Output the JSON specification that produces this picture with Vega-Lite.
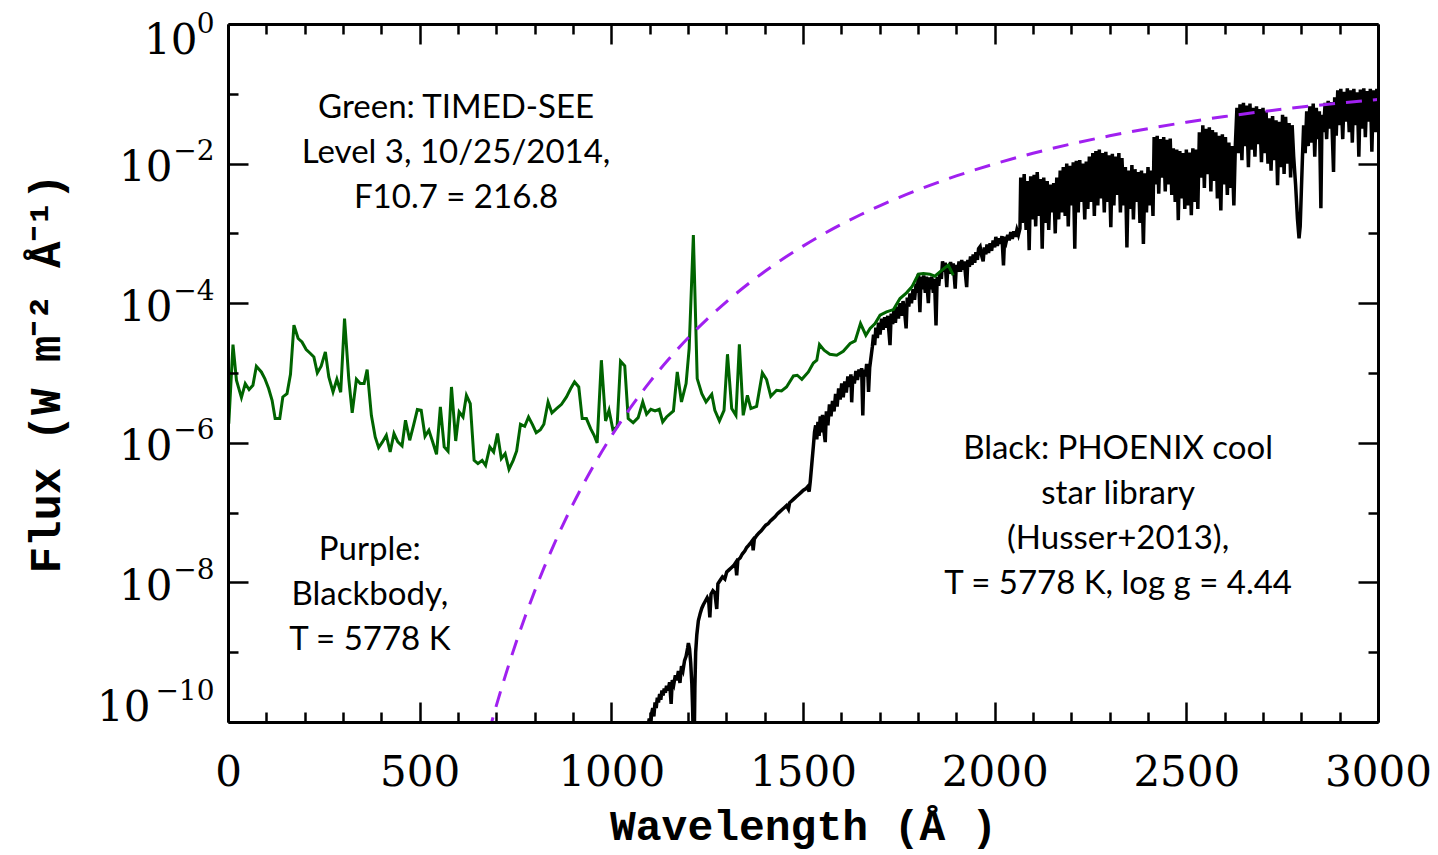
{
  "$schema": "https://vega.github.io/schema/vega-lite/v6.json",
  "width": 1150,
  "height": 698,
  "autosize": {"type": "none"},
  "padding": {"left": 228, "top": 24, "right": 60, "bottom": 133},
  "background": "white",
  "config": {"view": {"stroke": null}, "axis": {"grid": false}},
  "datasets": {
    "timed_see": [
      {"wavelength":2,"log_flux":-5.725},{"wavelength":13,"log_flux":-4.592},{"wavelength":22,"log_flux":-5.104},{"wavelength":35,"log_flux":-5.352},{"wavelength":45,"log_flux":-5.151},{"wavelength":55,"log_flux":-5.237},{"wavelength":65,"log_flux":-5.176},{"wavelength":74,"log_flux":-4.903},{"wavelength":87,"log_flux":-4.985},{"wavelength":96,"log_flux":-5.08},{"wavelength":106,"log_flux":-5.223},{"wavelength":115,"log_flux":-5.391},{"wavelength":123,"log_flux":-5.653},{"wavelength":135,"log_flux":-5.653},{"wavelength":143,"log_flux":-5.343},{"wavelength":154,"log_flux":-5.295},{"wavelength":163,"log_flux":-5.018},{"wavelength":172,"log_flux":-4.315},{"wavelength":183,"log_flux":-4.506},{"wavelength":193,"log_flux":-4.555},{"wavelength":204,"log_flux":-4.664},{"wavelength":215,"log_flux":-4.721},{"wavelength":224,"log_flux":-4.77},{"wavelength":233,"log_flux":-4.999},{"wavelength":243,"log_flux":-4.903},{"wavelength":254,"log_flux":-4.698},{"wavelength":263,"log_flux":-5.057},{"wavelength":274,"log_flux":-5.272},{"wavelength":284,"log_flux":-5.09},{"wavelength":294,"log_flux":-5.276},{"wavelength":304,"log_flux":-4.22},{"wavelength":315,"log_flux":-5.08},{"wavelength":324,"log_flux":-5.572},{"wavelength":335,"log_flux":-5.09},{"wavelength":345,"log_flux":-5.151},{"wavelength":355,"log_flux":-5.151},{"wavelength":363,"log_flux":-4.951},{"wavelength":374,"log_flux":-5.606},{"wavelength":384,"log_flux":-5.917},{"wavelength":393,"log_flux":-6.069},{"wavelength":403,"log_flux":-5.988},{"wavelength":413,"log_flux":-5.892},{"wavelength":423,"log_flux":-6.132},{"wavelength":433,"log_flux":-5.868},{"wavelength":443,"log_flux":-5.988},{"wavelength":454,"log_flux":-6.045},{"wavelength":463,"log_flux":-5.677},{"wavelength":474,"log_flux":-5.964},{"wavelength":484,"log_flux":-5.749},{"wavelength":494,"log_flux":-5.524},{"wavelength":504,"log_flux":-5.534},{"wavelength":514,"log_flux":-5.907},{"wavelength":524,"log_flux":-5.821},{"wavelength":534,"log_flux":-5.988},{"wavelength":544,"log_flux":-6.165},{"wavelength":554,"log_flux":-5.487},{"wavelength":564,"log_flux":-6.06},{"wavelength":574,"log_flux":-6.122},{"wavelength":583,"log_flux":-5.2},{"wavelength":594,"log_flux":-5.974},{"wavelength":603,"log_flux":-5.558},{"wavelength":613,"log_flux":-5.63},{"wavelength":622,"log_flux":-5.319},{"wavelength":632,"log_flux":-5.438},{"wavelength":642,"log_flux":-6.251},{"wavelength":652,"log_flux":-6.299},{"wavelength":663,"log_flux":-6.251},{"wavelength":672,"log_flux":-6.323},{"wavelength":683,"log_flux":-6.06},{"wavelength":693,"log_flux":-6.132},{"wavelength":703,"log_flux":-5.868},{"wavelength":713,"log_flux":-6.227},{"wavelength":723,"log_flux":-6.155},{"wavelength":733,"log_flux":-6.38},{"wavelength":744,"log_flux":-6.251},{"wavelength":753,"log_flux":-6.117},{"wavelength":763,"log_flux":-5.735},{"wavelength":774,"log_flux":-5.763},{"wavelength":784,"log_flux":-5.63},{"wavelength":794,"log_flux":-5.735},{"wavelength":804,"log_flux":-5.854},{"wavelength":815,"log_flux":-5.811},{"wavelength":824,"log_flux":-5.735},{"wavelength":835,"log_flux":-5.415},{"wavelength":845,"log_flux":-5.572},{"wavelength":857,"log_flux":-5.51},{"wavelength":870,"log_flux":-5.448},{"wavelength":883,"log_flux":-5.343},{"wavelength":894,"log_flux":-5.223},{"wavelength":904,"log_flux":-5.128},{"wavelength":915,"log_flux":-5.2},{"wavelength":924,"log_flux":-5.653},{"wavelength":935,"log_flux":-5.653},{"wavelength":946,"log_flux":-5.797},{"wavelength":955,"log_flux":-5.892},{"wavelength":963,"log_flux":-6.002},{"wavelength":974,"log_flux":-4.817},{"wavelength":985,"log_flux":-5.687},{"wavelength":994,"log_flux":-5.534},{"wavelength":1004,"log_flux":-5.811},{"wavelength":1015,"log_flux":-5.773},{"wavelength":1024,"log_flux":-4.832},{"wavelength":1035,"log_flux":-4.899},{"wavelength":1044,"log_flux":-5.653},{"wavelength":1057,"log_flux":-5.711},{"wavelength":1070,"log_flux":-5.639},{"wavelength":1082,"log_flux":-5.415},{"wavelength":1092,"log_flux":-5.591},{"wavelength":1103,"log_flux":-5.52},{"wavelength":1114,"log_flux":-5.544},{"wavelength":1125,"log_flux":-5.52},{"wavelength":1134,"log_flux":-5.701},{"wavelength":1144,"log_flux":-5.63},{"wavelength":1162,"log_flux":-5.544},{"wavelength":1172,"log_flux":-4.985},{"wavelength":1183,"log_flux":-5.415},{"wavelength":1195,"log_flux":-5.152},{"wavelength":1203,"log_flux":-4.65},{"wavelength":1214,"log_flux":-3.025},{"wavelength":1224,"log_flux":-5.08},{"wavelength":1236,"log_flux":-5.295},{"wavelength":1247,"log_flux":-5.415},{"wavelength":1262,"log_flux":-5.305},{"wavelength":1270,"log_flux":-5.534},{"wavelength":1282,"log_flux":-5.687},{"wavelength":1294,"log_flux":-5.534},{"wavelength":1303,"log_flux":-4.731},{"wavelength":1314,"log_flux":-5.51},{"wavelength":1325,"log_flux":-5.606},{"wavelength":1334,"log_flux":-4.588},{"wavelength":1344,"log_flux":-5.606},{"wavelength":1355,"log_flux":-5.319},{"wavelength":1364,"log_flux":-5.51},{"wavelength":1379,"log_flux":-5.477},{"wavelength":1394,"log_flux":-4.999},{"wavelength":1405,"log_flux":-5.094},{"wavelength":1416,"log_flux":-5.333},{"wavelength":1431,"log_flux":-5.247},{"wavelength":1444,"log_flux":-5.257},{"wavelength":1457,"log_flux":-5.2},{"wavelength":1475,"log_flux":-5.042},{"wavelength":1485,"log_flux":-5.032},{"wavelength":1497,"log_flux":-5.09},{"wavelength":1514,"log_flux":-4.985},{"wavelength":1527,"log_flux":-4.856},{"wavelength":1536,"log_flux":-4.817},{"wavelength":1543,"log_flux":-4.593},{"wavelength":1555,"log_flux":-4.674},{"wavelength":1570,"log_flux":-4.731},{"wavelength":1588,"log_flux":-4.746},{"wavelength":1605,"log_flux":-4.688},{"wavelength":1623,"log_flux":-4.578},{"wavelength":1636,"log_flux":-4.54},{"wavelength":1650,"log_flux":-4.291},{"wavelength":1664,"log_flux":-4.459},{"wavelength":1675,"log_flux":-4.363},{"wavelength":1688,"log_flux":-4.291},{"wavelength":1701,"log_flux":-4.172},{"wavelength":1718,"log_flux":-4.125},{"wavelength":1736,"log_flux":-4.091},{"wavelength":1753,"log_flux":-3.933},{"wavelength":1770,"log_flux":-3.852},{"wavelength":1784,"log_flux":-3.766},{"wavelength":1801,"log_flux":-3.584},{"wavelength":1814,"log_flux":-3.575},{"wavelength":1831,"log_flux":-3.584},{"wavelength":1844,"log_flux":-3.613},{"wavelength":1857,"log_flux":-3.551},{"wavelength":1879,"log_flux":-3.455},{"wavelength":1892,"log_flux":-3.599}
    ],
    "blackbody": [
      {"wavelength":680,"log_flux":-10.157},{"wavelength":700,"log_flux":-9.766},{"wavelength":725,"log_flux":-9.31},{"wavelength":750,"log_flux":-8.886},{"wavelength":775,"log_flux":-8.492},{"wavelength":800,"log_flux":-8.125},{"wavelength":825,"log_flux":-7.782},{"wavelength":850,"log_flux":-7.461},{"wavelength":875,"log_flux":-7.161},{"wavelength":900,"log_flux":-6.879},{"wavelength":950,"log_flux":-6.364},{"wavelength":1000,"log_flux":-5.906},{"wavelength":1050,"log_flux":-5.497},{"wavelength":1100,"log_flux":-5.13},{"wavelength":1150,"log_flux":-4.799},{"wavelength":1200,"log_flux":-4.499},{"wavelength":1250,"log_flux":-4.228},{"wavelength":1300,"log_flux":-3.98},{"wavelength":1350,"log_flux":-3.754},{"wavelength":1400,"log_flux":-3.547},{"wavelength":1450,"log_flux":-3.356},{"wavelength":1500,"log_flux":-3.182},{"wavelength":1550,"log_flux":-3.02},{"wavelength":1600,"log_flux":-2.871},{"wavelength":1650,"log_flux":-2.733},{"wavelength":1700,"log_flux":-2.605},{"wavelength":1750,"log_flux":-2.486},{"wavelength":1800,"log_flux":-2.376},{"wavelength":1900,"log_flux":-2.177},{"wavelength":2000,"log_flux":-2.004},{"wavelength":2100,"log_flux":-1.852},{"wavelength":2200,"log_flux":-1.719},{"wavelength":2300,"log_flux":-1.602},{"wavelength":2400,"log_flux":-1.499},{"wavelength":2500,"log_flux":-1.407},{"wavelength":2600,"log_flux":-1.326},{"wavelength":2700,"log_flux":-1.254},{"wavelength":2800,"log_flux":-1.19},{"wavelength":2900,"log_flux":-1.133},{"wavelength":3000,"log_flux":-1.082}
    ],
    "phoenix": [
      {"wavelength":1096,"log_flux":-10.05},{"wavelength":1099,"log_flux":-9.95},{"wavelength":1102,"log_flux":-10.1},{"wavelength":1105,"log_flux":-9.88},{"wavelength":1108,"log_flux":-9.8},{"wavelength":1111,"log_flux":-9.92},{"wavelength":1114,"log_flux":-9.72},{"wavelength":1117,"log_flux":-9.8},{"wavelength":1120,"log_flux":-9.65},{"wavelength":1123,"log_flux":-9.72},{"wavelength":1126,"log_flux":-9.6},{"wavelength":1129,"log_flux":-9.68},{"wavelength":1132,"log_flux":-9.55},{"wavelength":1135,"log_flux":-9.62},{"wavelength":1138,"log_flux":-9.52},{"wavelength":1141,"log_flux":-9.58},{"wavelength":1144,"log_flux":-9.48},{"wavelength":1148,"log_flux":-9.55},{"wavelength":1152,"log_flux":-9.43},{"wavelength":1156,"log_flux":-9.74},{"wavelength":1159,"log_flux":-9.4},{"wavelength":1163,"log_flux":-9.46},{"wavelength":1167,"log_flux":-9.33},{"wavelength":1171,"log_flux":-9.4},{"wavelength":1175,"log_flux":-9.27},{"wavelength":1179,"log_flux":-9.44},{"wavelength":1183,"log_flux":-9.2},{"wavelength":1187,"log_flux":-9.26},{"wavelength":1191,"log_flux":-9.12},{"wavelength":1195,"log_flux":-9.06},{"wavelength":1199,"log_flux":-8.94},{"wavelength":1201,"log_flux":-8.87},{"wavelength":1204,"log_flux":-8.95},{"wavelength":1207,"log_flux":-9.15},{"wavelength":1210,"log_flux":-9.45},{"wavelength":1212,"log_flux":-9.8},{"wavelength":1214,"log_flux":-10.3},{"wavelength":1215,"log_flux":-10.6},{"wavelength":1216,"log_flux":-10.4},{"wavelength":1218,"log_flux":-9.5},{"wavelength":1220,"log_flux":-9.0},{"wavelength":1223,"log_flux":-8.75},{"wavelength":1227,"log_flux":-8.55},{"wavelength":1232,"log_flux":-8.44},{"wavelength":1236,"log_flux":-8.37},{"wavelength":1240,"log_flux":-8.32},
      {"wavelength":1245,"log_flux":-8.27},{"wavelength":1250,"log_flux":-8.22},{"wavelength":1254,"log_flux":-8.27},{"wavelength":1257,"log_flux":-8.5},{"wavelength":1260,"log_flux":-8.17},{"wavelength":1265,"log_flux":-8.12},{"wavelength":1270,"log_flux":-8.15},{"wavelength":1275,"log_flux":-8.38},{"wavelength":1278,"log_flux":-8.02},{"wavelength":1284,"log_flux":-7.97},{"wavelength":1290,"log_flux":-7.92},{"wavelength":1296,"log_flux":-7.95},{"wavelength":1301,"log_flux":-7.85},{"wavelength":1307,"log_flux":-7.82},{"wavelength":1313,"log_flux":-7.79},{"wavelength":1319,"log_flux":-7.76},{"wavelength":1324,"log_flux":-7.72},{"wavelength":1327,"log_flux":-7.9},{"wavelength":1330,"log_flux":-7.68},{"wavelength":1336,"log_flux":-7.65},{"wavelength":1342,"log_flux":-7.59},{"wavelength":1348,"log_flux":-7.55},{"wavelength":1353,"log_flux":-7.5},{"wavelength":1358,"log_flux":-7.47},{"wavelength":1364,"log_flux":-7.43},{"wavelength":1368,"log_flux":-7.4},{"wavelength":1370,"log_flux":-7.54},{"wavelength":1373,"log_flux":-7.38},{"wavelength":1379,"log_flux":-7.33},{"wavelength":1385,"log_flux":-7.29},{"wavelength":1391,"log_flux":-7.26},{"wavelength":1397,"log_flux":-7.22},{"wavelength":1403,"log_flux":-7.18},{"wavelength":1409,"log_flux":-7.16},{"wavelength":1415,"log_flux":-7.12},{"wavelength":1421,"log_flux":-7.09},{"wavelength":1427,"log_flux":-7.06},{"wavelength":1433,"log_flux":-7.02},{"wavelength":1439,"log_flux":-6.99},{"wavelength":1445,"log_flux":-6.96},{"wavelength":1451,"log_flux":-6.93},{"wavelength":1457,"log_flux":-6.9},{"wavelength":1462,"log_flux":-6.95},{"wavelength":1465,"log_flux":-6.86},{"wavelength":1471,"log_flux":-6.83},{"wavelength":1477,"log_flux":-6.8},{"wavelength":1483,"log_flux":-6.77},{"wavelength":1489,"log_flux":-6.74},{"wavelength":1495,"log_flux":-6.71},{"wavelength":1501,"log_flux":-6.68},{"wavelength":1507,"log_flux":-6.66},{"wavelength":1512,"log_flux":-6.63},{"wavelength":1516,"log_flux":-6.7},{"wavelength":1519,"log_flux":-6.55},{"wavelength":1523,"log_flux":-6.3},{"wavelength":1527,"log_flux":-6.05},{"wavelength":1530,"log_flux":-5.85},
      {"wavelength":1533,"log_flux":-5.75},{"wavelength":1536,"log_flux":-5.95},{"wavelength":1539,"log_flux":-5.7},{"wavelength":1542,"log_flux":-5.9},{"wavelength":1545,"log_flux":-5.62},{"wavelength":1548,"log_flux":-5.85},{"wavelength":1551,"log_flux":-5.6},{"wavelength":1554,"log_flux":-5.8},{"wavelength":1558,"log_flux":-5.99},{"wavelength":1561,"log_flux":-5.55},{"wavelength":1565,"log_flux":-5.75},{"wavelength":1569,"log_flux":-5.45},{"wavelength":1573,"log_flux":-5.62},{"wavelength":1577,"log_flux":-5.4},{"wavelength":1581,"log_flux":-5.55},{"wavelength":1585,"log_flux":-5.3},{"wavelength":1589,"log_flux":-5.48},{"wavelength":1593,"log_flux":-5.22},{"wavelength":1597,"log_flux":-5.38},{"wavelength":1601,"log_flux":-5.15},{"wavelength":1605,"log_flux":-5.35},{"wavelength":1609,"log_flux":-5.12},{"wavelength":1613,"log_flux":-5.28},{"wavelength":1617,"log_flux":-5.05},{"wavelength":1621,"log_flux":-5.2},{"wavelength":1625,"log_flux":-5.02},{"wavelength":1627,"log_flux":-5.42},{"wavelength":1630,"log_flux":-5.05},{"wavelength":1634,"log_flux":-5.15},{"wavelength":1638,"log_flux":-4.97},{"wavelength":1642,"log_flux":-5.1},{"wavelength":1646,"log_flux":-4.95},{"wavelength":1650,"log_flux":-5.05},{"wavelength":1653,"log_flux":-4.93},{"wavelength":1656,"log_flux":-5.61},{"wavelength":1659,"log_flux":-4.95},{"wavelength":1663,"log_flux":-5.05},{"wavelength":1666,"log_flux":-4.87},{"wavelength":1669,"log_flux":-5.0},{"wavelength":1671,"log_flux":-5.27},{"wavelength":1674,"log_flux":-4.92},{"wavelength":1678,"log_flux":-4.75},{"wavelength":1681,"log_flux":-4.62},{"wavelength":1684,"log_flux":-4.45},{"wavelength":1687,"log_flux":-4.6},{"wavelength":1690,"log_flux":-4.35},{"wavelength":1694,"log_flux":-4.5},{"wavelength":1697,"log_flux":-4.28},{"wavelength":1701,"log_flux":-4.45},{"wavelength":1705,"log_flux":-4.22},{"wavelength":1709,"log_flux":-4.38},{"wavelength":1713,"log_flux":-4.2},{"wavelength":1717,"log_flux":-4.35},{"wavelength":1721,"log_flux":-4.18},{"wavelength":1724,"log_flux":-4.4},{"wavelength":1727,"log_flux":-4.6},{"wavelength":1730,"log_flux":-4.15},{"wavelength":1734,"log_flux":-4.3},{"wavelength":1737,"log_flux":-4.1},{"wavelength":1741,"log_flux":-4.28},{"wavelength":1745,"log_flux":-4.05},{"wavelength":1749,"log_flux":-4.22},{"wavelength":1753,"log_flux":-4.0},{"wavelength":1757,"log_flux":-4.18},{"wavelength":1761,"log_flux":-3.97},{"wavelength":1765,"log_flux":-4.12},{"wavelength":1769,"log_flux":-4.36},{"wavelength":1772,"log_flux":-3.92},{"wavelength":1776,"log_flux":-4.05},{"wavelength":1779,"log_flux":-3.86},{"wavelength":1783,"log_flux":-4.0},{"wavelength":1787,"log_flux":-3.8},{"wavelength":1791,"log_flux":-3.95},{"wavelength":1795,"log_flux":-3.72},{"wavelength":1798,"log_flux":-3.85},{"wavelength":1801,"log_flux":-3.58},{"wavelength":1805,"log_flux":-4.13},{"wavelength":1808,"log_flux":-3.62},{"wavelength":1812,"log_flux":-3.8},{"wavelength":1815,"log_flux":-3.6},{"wavelength":1819,"log_flux":-3.85},{"wavelength":1822,"log_flux":-3.62},{"wavelength":1827,"log_flux":-4.0},{"wavelength":1830,"log_flux":-3.63},{"wavelength":1833,"log_flux":-3.8},{"wavelength":1836,"log_flux":-3.62},{"wavelength":1840,"log_flux":-3.85},{"wavelength":1843,"log_flux":-3.65},{"wavelength":1847,"log_flux":-4.32},{"wavelength":1850,"log_flux":-3.62},{"wavelength":1854,"log_flux":-3.75},{"wavelength":1857,"log_flux":-3.58},{"wavelength":1861,"log_flux":-3.65},{"wavelength":1864,"log_flux":-3.4},{"wavelength":1868,"log_flux":-3.55},{"wavelength":1871,"log_flux":-3.42},{"wavelength":1875,"log_flux":-3.77},{"wavelength":1878,"log_flux":-3.45},{"wavelength":1882,"log_flux":-3.58},{"wavelength":1885,"log_flux":-3.41},{"wavelength":1889,"log_flux":-3.55},{"wavelength":1892,"log_flux":-3.43},{"wavelength":1897,"log_flux":-3.79},{"wavelength":1900,"log_flux":-3.45},{"wavelength":1904,"log_flux":-3.55},{"wavelength":1907,"log_flux":-3.4},{"wavelength":1911,"log_flux":-3.55},{"wavelength":1914,"log_flux":-3.38},{"wavelength":1918,"log_flux":-3.52},{"wavelength":1921,"log_flux":-3.4},{"wavelength":1924,"log_flux":-3.6},{"wavelength":1927,"log_flux":-3.77},{"wavelength":1930,"log_flux":-3.38},{"wavelength":1934,"log_flux":-3.48},{"wavelength":1937,"log_flux":-3.33},{"wavelength":1941,"log_flux":-3.45},{"wavelength":1944,"log_flux":-3.3},{"wavelength":1948,"log_flux":-3.42},{"wavelength":1951,"log_flux":-3.27},{"wavelength":1955,"log_flux":-3.38},{"wavelength":1958,"log_flux":-3.22},{"wavelength":1962,"log_flux":-3.19},{"wavelength":1966,"log_flux":-3.32},{"wavelength":1970,"log_flux":-3.4},{"wavelength":1973,"log_flux":-3.2},{"wavelength":1977,"log_flux":-3.3},{"wavelength":1980,"log_flux":-3.16},{"wavelength":1984,"log_flux":-3.28},{"wavelength":1988,"log_flux":-3.14},{"wavelength":1992,"log_flux":-3.25},{"wavelength":1996,"log_flux":-3.1},{"wavelength":2000,"log_flux":-3.2},{"wavelength":2003,"log_flux":-3.05},{"wavelength":2007,"log_flux":-3.18},{"wavelength":2011,"log_flux":-3.07},{"wavelength":2015,"log_flux":-3.15},{"wavelength":2019,"log_flux":-3.04},{"wavelength":2023,"log_flux":-3.46},{"wavelength":2026,"log_flux":-3.05},{"wavelength":2030,"log_flux":-3.12},{"wavelength":2034,"log_flux":-3.02},{"wavelength":2038,"log_flux":-3.1},{"wavelength":2042,"log_flux":-2.98},{"wavelength":2046,"log_flux":-3.08},{"wavelength":2050,"log_flux":-2.97},{"wavelength":2054,"log_flux":-3.05},{"wavelength":2058,"log_flux":-2.95},{"wavelength":2062,"log_flux":-3.02},{"wavelength":2066,"log_flux":-2.93},
      {"wavelength":2068,"log_flux":-2.2},{"wavelength":2072,"log_flux":-2.85},{"wavelength":2077,"log_flux":-2.15},{"wavelength":2082,"log_flux":-2.95},{"wavelength":2086,"log_flux":-2.25},{"wavelength":2090,"log_flux":-3.24},{"wavelength":2094,"log_flux":-2.18},{"wavelength":2099,"log_flux":-2.8},{"wavelength":2103,"log_flux":-2.16},{"wavelength":2107,"log_flux":-2.9},{"wavelength":2111,"log_flux":-2.12},{"wavelength":2116,"log_flux":-2.75},{"wavelength":2120,"log_flux":-2.22},{"wavelength":2124,"log_flux":-3.22},{"wavelength":2128,"log_flux":-2.2},{"wavelength":2133,"log_flux":-2.85},{"wavelength":2137,"log_flux":-2.25},{"wavelength":2141,"log_flux":-2.95},{"wavelength":2145,"log_flux":-2.3},{"wavelength":2150,"log_flux":-2.7},{"wavelength":2154,"log_flux":-2.28},{"wavelength":2158,"log_flux":-3.0},{"wavelength":2162,"log_flux":-2.2},{"wavelength":2167,"log_flux":-2.8},{"wavelength":2171,"log_flux":-2.1},{"wavelength":2175,"log_flux":-2.7},{"wavelength":2179,"log_flux":-2.05},{"wavelength":2184,"log_flux":-2.75},{"wavelength":2188,"log_flux":-2.0},{"wavelength":2192,"log_flux":-2.9},{"wavelength":2196,"log_flux":-2.03},{"wavelength":2201,"log_flux":-2.6},{"wavelength":2205,"log_flux":-1.98},{"wavelength":2209,"log_flux":-3.22},{"wavelength":2213,"log_flux":-1.96},{"wavelength":2218,"log_flux":-2.7},{"wavelength":2222,"log_flux":-1.95},{"wavelength":2226,"log_flux":-2.55},{"wavelength":2230,"log_flux":-2.0},{"wavelength":2235,"log_flux":-2.8},{"wavelength":2239,"log_flux":-1.97},{"wavelength":2243,"log_flux":-2.65},{"wavelength":2247,"log_flux":-1.9},{"wavelength":2252,"log_flux":-2.55},{"wavelength":2256,"log_flux":-1.85},{"wavelength":2260,"log_flux":-2.75},{"wavelength":2264,"log_flux":-1.82},{"wavelength":2269,"log_flux":-2.6},{"wavelength":2273,"log_flux":-1.8},{"wavelength":2277,"log_flux":-2.5},{"wavelength":2281,"log_flux":-1.85},{"wavelength":2286,"log_flux":-2.7},{"wavelength":2290,"log_flux":-1.83},{"wavelength":2294,"log_flux":-2.55},{"wavelength":2298,"log_flux":-1.88},{"wavelength":2303,"log_flux":-2.91},{"wavelength":2307,"log_flux":-1.86},{"wavelength":2311,"log_flux":-2.6},{"wavelength":2315,"log_flux":-1.9},{"wavelength":2320,"log_flux":-2.45},{"wavelength":2324,"log_flux":-1.85},{"wavelength":2328,"log_flux":-2.7},{"wavelength":2332,"log_flux":-1.92},{"wavelength":2337,"log_flux":-2.6},{"wavelength":2341,"log_flux":-2.05},{"wavelength":2345,"log_flux":-3.2},{"wavelength":2349,"log_flux":-2.1},{"wavelength":2354,"log_flux":-2.65},{"wavelength":2358,"log_flux":-2.02},{"wavelength":2362,"log_flux":-2.8},{"wavelength":2366,"log_flux":-2.08},{"wavelength":2371,"log_flux":-2.55},{"wavelength":2375,"log_flux":-2.12},{"wavelength":2379,"log_flux":-2.85},{"wavelength":2383,"log_flux":-2.1},{"wavelength":2388,"log_flux":-3.15},{"wavelength":2392,"log_flux":-2.14},{"wavelength":2396,"log_flux":-2.7},{"wavelength":2400,"log_flux":-2.05},{"wavelength":2405,"log_flux":-2.6},{"wavelength":2409,"log_flux":-2.1},{"wavelength":2413,"log_flux":-2.75},
      {"wavelength":2416,"log_flux":-1.62},{"wavelength":2420,"log_flux":-2.3},{"wavelength":2424,"log_flux":-1.6},{"wavelength":2428,"log_flux":-2.43},{"wavelength":2432,"log_flux":-1.65},{"wavelength":2437,"log_flux":-2.2},{"wavelength":2441,"log_flux":-1.62},{"wavelength":2445,"log_flux":-2.4},{"wavelength":2449,"log_flux":-1.66},{"wavelength":2454,"log_flux":-2.3},{"wavelength":2458,"log_flux":-1.64},{"wavelength":2462,"log_flux":-2.45},{"wavelength":2466,"log_flux":-1.78},{"wavelength":2471,"log_flux":-2.55},{"wavelength":2475,"log_flux":-1.8},{"wavelength":2479,"log_flux":-2.81},{"wavelength":2483,"log_flux":-1.82},{"wavelength":2488,"log_flux":-2.5},{"wavelength":2492,"log_flux":-1.85},{"wavelength":2496,"log_flux":-2.65},{"wavelength":2500,"log_flux":-1.8},{"wavelength":2505,"log_flux":-2.6},{"wavelength":2509,"log_flux":-1.84},{"wavelength":2513,"log_flux":-2.74},{"wavelength":2517,"log_flux":-1.78},{"wavelength":2522,"log_flux":-2.55},{"wavelength":2526,"log_flux":-1.8},{"wavelength":2530,"log_flux":-2.65},{"wavelength":2534,"log_flux":-1.55},{"wavelength":2539,"log_flux":-2.2},{"wavelength":2543,"log_flux":-1.45},{"wavelength":2547,"log_flux":-2.35},{"wavelength":2551,"log_flux":-1.5},{"wavelength":2556,"log_flux":-2.15},{"wavelength":2560,"log_flux":-1.48},{"wavelength":2564,"log_flux":-2.4},{"wavelength":2568,"log_flux":-1.52},{"wavelength":2573,"log_flux":-2.25},{"wavelength":2577,"log_flux":-1.55},{"wavelength":2581,"log_flux":-2.5},{"wavelength":2585,"log_flux":-1.6},{"wavelength":2590,"log_flux":-2.67},{"wavelength":2594,"log_flux":-1.58},{"wavelength":2598,"log_flux":-2.3},{"wavelength":2602,"log_flux":-1.62},{"wavelength":2607,"log_flux":-2.45},{"wavelength":2611,"log_flux":-1.7},{"wavelength":2615,"log_flux":-2.35},{"wavelength":2619,"log_flux":-1.75},{"wavelength":2624,"log_flux":-2.6},{"wavelength":2628,"log_flux":-1.72},
      {"wavelength":2632,"log_flux":-1.2},{"wavelength":2636,"log_flux":-1.85},{"wavelength":2640,"log_flux":-1.15},{"wavelength":2645,"log_flux":-1.95},{"wavelength":2649,"log_flux":-1.13},{"wavelength":2653,"log_flux":-1.75},{"wavelength":2657,"log_flux":-1.17},{"wavelength":2662,"log_flux":-2.05},{"wavelength":2666,"log_flux":-1.14},{"wavelength":2670,"log_flux":-1.8},{"wavelength":2674,"log_flux":-1.2},{"wavelength":2679,"log_flux":-1.9},{"wavelength":2683,"log_flux":-1.18},{"wavelength":2687,"log_flux":-1.72},{"wavelength":2691,"log_flux":-1.22},{"wavelength":2696,"log_flux":-1.98},{"wavelength":2700,"log_flux":-1.2},{"wavelength":2704,"log_flux":-1.85},{"wavelength":2708,"log_flux":-1.25},{"wavelength":2713,"log_flux":-2.0},{"wavelength":2717,"log_flux":-1.35},{"wavelength":2721,"log_flux":-2.1},{"wavelength":2725,"log_flux":-1.32},{"wavelength":2730,"log_flux":-1.95},{"wavelength":2734,"log_flux":-1.38},{"wavelength":2738,"log_flux":-2.31},{"wavelength":2742,"log_flux":-1.4},{"wavelength":2747,"log_flux":-2.05},{"wavelength":2751,"log_flux":-1.3},{"wavelength":2755,"log_flux":-2.15},{"wavelength":2759,"log_flux":-1.33},{"wavelength":2764,"log_flux":-2.0},{"wavelength":2768,"log_flux":-1.42},{"wavelength":2772,"log_flux":-2.2},{"wavelength":2776,"log_flux":-1.45},{"wavelength":2780,"log_flux":-1.9},{"wavelength":2785,"log_flux":-2.3},{"wavelength":2790,"log_flux":-2.8},{"wavelength":2794,"log_flux":-3.07},{"wavelength":2797,"log_flux":-2.9},{"wavelength":2800,"log_flux":-2.4},{"wavelength":2803,"log_flux":-1.9},{"wavelength":2806,"log_flux":-1.45},{"wavelength":2810,"log_flux":-1.85},{"wavelength":2814,"log_flux":-1.25},{"wavelength":2818,"log_flux":-1.75},{"wavelength":2822,"log_flux":-1.18},{"wavelength":2827,"log_flux":-1.7},{"wavelength":2831,"log_flux":-1.14},{"wavelength":2835,"log_flux":-1.9},{"wavelength":2839,"log_flux":-1.2},{"wavelength":2844,"log_flux":-1.65},{"wavelength":2847,"log_flux":-1.25},{"wavelength":2851,"log_flux":-2.64},{"wavelength":2854,"log_flux":-1.3},{"wavelength":2858,"log_flux":-1.55},{"wavelength":2862,"log_flux":-1.13},{"wavelength":2866,"log_flux":-1.65},{"wavelength":2870,"log_flux":-1.1},{"wavelength":2874,"log_flux":-1.5},{"wavelength":2878,"log_flux":-1.12},{"wavelength":2884,"log_flux":-2.12},{"wavelength":2887,"log_flux":-1.05},{"wavelength":2891,"log_flux":-1.6},{"wavelength":2895,"log_flux":-0.95},{"wavelength":2899,"log_flux":-1.45},{"wavelength":2903,"log_flux":-0.93},{"wavelength":2908,"log_flux":-1.65},{"wavelength":2912,"log_flux":-0.97},{"wavelength":2916,"log_flux":-1.4},{"wavelength":2920,"log_flux":-0.92},{"wavelength":2925,"log_flux":-1.55},{"wavelength":2929,"log_flux":-0.95},{"wavelength":2933,"log_flux":-1.7},{"wavelength":2937,"log_flux":-0.93},{"wavelength":2942,"log_flux":-1.45},{"wavelength":2946,"log_flux":-0.98},{"wavelength":2950,"log_flux":-1.9},{"wavelength":2954,"log_flux":-0.94},{"wavelength":2959,"log_flux":-1.5},{"wavelength":2963,"log_flux":-0.92},{"wavelength":2967,"log_flux":-1.62},{"wavelength":2971,"log_flux":-0.96},{"wavelength":2976,"log_flux":-1.4},{"wavelength":2980,"log_flux":-0.93},{"wavelength":2984,"log_flux":-1.83},{"wavelength":2988,"log_flux":-0.95},{"wavelength":2993,"log_flux":-1.55},{"wavelength":2997,"log_flux":-0.93},{"wavelength":3000,"log_flux":-1.5}
    ],
    "notes": [
      {"wavelength": 595, "log_flux": -1.204, "note": "Green: TIMED-SEE\nLevel 3, 10/25/2014,\nF10.7 = 216.8"},
      {"wavelength": 370, "log_flux": -7.541, "note": "Purple:\nBlackbody,\nT = 5778 K"},
      {"wavelength": 2322, "log_flux": -6.093, "note": "Black: PHOENIX cool\nstar library\n(Husser+2013),\nT = 5778 K, log g = 4.44"}
    ]
  },
  "layer": [
    {
      "data": {"name": "phoenix"},
      "mark": {"type": "line", "color": "black", "strokeWidth": 3.5, "clip": true},
      "encoding": {
        "x": {
          "field": "wavelength", "type": "quantitative",
          "scale": {"domain": [0, 3000], "nice": false, "zero": false},
          "axis": {
            "orient": "bottom",
            "values": [0,100,200,300,400,500,600,700,800,900,1000,1100,1200,1300,1400,1500,1600,1700,1800,1900,2000,2100,2200,2300,2400,2500,2600,2700,2800,2900,3000],
            "format": "d",
            "labelExpr": "datum.value % 500 === 0 ? datum.label : ''",
            "tickSize": {"condition": {"test": "datum.value % 500 === 0", "value": -20}, "value": -10},
            "tickWidth": 2.5, "tickColor": "black",
            "domainWidth": 3, "domainColor": "black",
            "labelFont": "DejaVu Serif", "labelFontSize": 42, "labelColor": "black",
            "labelPadding": 50, "labelFlush": false, "labelOverlap": false,
            "title": "Wavelength (Å )",
            "titleFont": "Liberation Mono", "titleFontSize": 43, "titleFontWeight": "bold",
            "titleColor": "black", "titlePadding": 2,
            "grid": false, "zindex": 1
          }
        },
        "y": {
          "field": "log_flux", "type": "quantitative",
          "scale": {"domain": [-10, 0], "nice": false, "zero": false},
          "axis": {
            "orient": "left",
            "values": [-10,-9,-8,-7,-6,-5,-4,-3,-2,-1,0],
            "labelExpr": "datum.value % 2 === 0 ? '10' : ''",
            "tickSize": {"condition": {"test": "datum.value % 2 === 0", "value": -20}, "value": -10},
            "tickWidth": 2.5, "tickColor": "black",
            "domainWidth": 3, "domainColor": "black",
            "labelFont": "DejaVu Serif", "labelFontSize": 42, "labelColor": "black",
            "labelPadding": {"condition": [{"test": "datum.value === 0", "value": 51}, {"test": "datum.value === -10", "value": 98}], "value": 76},
            "labelOffset": {"condition": [{"test": "datum.value === 0", "value": 16}, {"test": "datum.value === -10", "value": -15}], "value": 4},
            "labelFlush": false, "labelOverlap": false,
            "title": "Flux (W m⁻² Å⁻¹)",
            "titleFont": "Liberation Mono", "titleFontSize": 44, "titleFontWeight": "bold",
            "titleColor": "black", "titlePadding": 28,
            "grid": false, "zindex": 1
          }
        }
      }
    },
    {
      "data": {"name": "timed_see"},
      "mark": {"type": "line", "color": "#006400", "strokeWidth": 3, "clip": true},
      "encoding": {
        "x": {
          "field": "wavelength", "type": "quantitative",
          "scale": {"domain": [0, 3000], "nice": false, "zero": false},
          "axis": {
            "orient": "top",
            "values": [0,100,200,300,400,500,600,700,800,900,1000,1100,1200,1300,1400,1500,1600,1700,1800,1900,2000,2100,2200,2300,2400,2500,2600,2700,2800,2900,3000],
            "labels": false,
            "tickSize": {"condition": {"test": "datum.value % 500 === 0", "value": -20}, "value": -10},
            "tickWidth": 2.5, "tickColor": "black",
            "domainWidth": 3, "domainColor": "black",
            "title": null, "grid": false, "zindex": 1
          }
        },
        "y": {
          "field": "log_flux", "type": "quantitative",
          "scale": {"domain": [-10, 0], "nice": false, "zero": false},
          "axis": {
            "orient": "right",
            "values": [-10,-9,-8,-7,-6,-5,-4,-3,-2,-1,0],
            "labels": false,
            "tickSize": {"condition": {"test": "datum.value % 2 === 0", "value": -20}, "value": -10},
            "tickWidth": 2.5, "tickColor": "black",
            "domainWidth": 3, "domainColor": "black",
            "title": null, "grid": false, "zindex": 1
          }
        }
      }
    },
    {
      "data": {"name": "blackbody"},
      "mark": {"type": "line", "color": "#A020F0", "strokeWidth": 3, "strokeDash": [16, 11], "interpolate": "monotone", "clip": true},
      "encoding": {
        "x": {"field": "wavelength", "type": "quantitative", "scale": {"domain": [0, 3000], "nice": false, "zero": false}, "axis": null},
        "y": {
          "field": "log_flux", "type": "quantitative",
          "scale": {"domain": [-10, 0], "nice": false, "zero": false},
          "axis": {
            "orient": "left",
            "values": [-10,-8,-6,-4,-2,0],
            "ticks": false, "domain": false, "grid": false,
            "labelExpr": "datum.value === 0 ? '0' : '−' + (-datum.value)",
            "labelFont": "DejaVu Serif", "labelFontSize": 28, "labelColor": "black",
            "labelAlign": "right", "labelPadding": 14,
            "labelOffset": {"condition": [{"test": "datum.value === 0", "value": 0}, {"test": "datum.value === -10", "value": -31}], "value": -12},
            "labelFlush": false, "labelOverlap": false,
            "title": null, "zindex": 1
          }
        }
      }
    },
    {
      "data": {"name": "notes"},
      "mark": {"type": "text", "font": "Lato", "fontSize": 33, "lineHeight": 45, "align": "center", "baseline": "middle", "lineBreak": "\n", "color": "black"},
      "encoding": {
        "x": {"field": "wavelength", "type": "quantitative", "scale": {"domain": [0, 3000], "nice": false, "zero": false}, "axis": null},
        "y": {"field": "log_flux", "type": "quantitative", "scale": {"domain": [-10, 0], "nice": false, "zero": false}, "axis": null},
        "text": {"field": "note", "type": "nominal"}
      }
    }
  ],
  "resolve": {"axis": {"x": "independent", "y": "independent"}}
}
